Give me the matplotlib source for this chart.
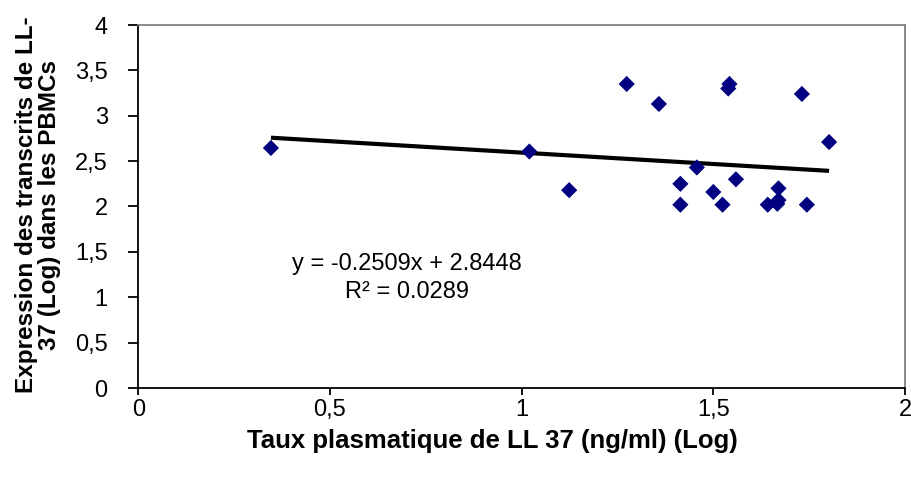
import matplotlib
matplotlib.use("Agg")
import matplotlib.pyplot as plt
import numpy as np

# Plasma LL-37 level (log) vs LL-37 transcript expression in PBMCs (log)
plasma_ll37 = [0.346, 1.020, 1.124, 1.274, 1.358, 1.414, 1.414, 1.457, 1.500, 1.524,
               1.542, 1.539, 1.559, 1.642, 1.667, 1.670, 1.670, 1.731, 1.744, 1.802]
transcripts = [2.645, 2.606, 2.18, 3.35, 3.13, 2.25, 2.02, 2.43, 2.16, 2.02,
               3.35, 3.30, 2.30, 2.02, 2.03, 2.07, 2.20, 3.24, 2.02, 2.71]

# Linear trend line
slope = -0.2509
intercept = 2.8448
r_squared = 0.0289

x_ticks = [0, 0.5, 1, 1.5, 2]
x_tick_labels = ["0", "0,5", "1", "1,5", "2"]
y_ticks = [0, 0.5, 1, 1.5, 2, 2.5, 3, 3.5, 4]
y_tick_labels = ["0", "0,5", "1", "1,5", "2", "2,5", "3", "3,5", "4"]

plt.rcParams["font.family"] = ["Liberation Sans", "DejaVu Sans"]

W, H = 912, 486
fig = plt.figure(figsize=(W / 100, H / 100), dpi=100)
ax = fig.add_axes([138.3 / W, 1 - 388 / H, (905 - 138.3) / W, (388 - 25) / H])

ax.scatter(plasma_ll37, transcripts, marker="D", s=68, color="#000080",
           edgecolors="none", zorder=3)

xs = np.array([min(plasma_ll37), max(plasma_ll37)])
ax.plot(xs, slope * xs + intercept, color="black", lw=3.0, zorder=2,
        solid_capstyle="butt")

ax.set_xlim(0, 2)
ax.set_ylim(0, 4)
ax.set_xticks(x_ticks)
ax.set_xticklabels(x_tick_labels)
ax.set_yticks(y_ticks)
ax.set_yticklabels(y_tick_labels)
ax.tick_params(axis="x", direction="out", length=5, width=1.3, pad=3,
               labelsize=17, colors="black")
ax.tick_params(axis="y", direction="out", length=7, width=1.3, pad=15,
               labelsize=17, colors="black")

for side in ("left", "bottom"):
    ax.spines[side].set_color("black")
    ax.spines[side].set_linewidth(1.3)
for side in ("top", "right"):
    ax.spines[side].set_color("#808080")
    ax.spines[side].set_linewidth(1.3)

eq_text = f"y = {slope}x + {intercept}\nR\u00b2 = {r_squared}"
ax.text(0.70, 1.212, eq_text, ha="center", va="center", multialignment="center",
        fontsize=17, linespacing=1.4)

fig.text(492 / W, 1 - 441 / H, "Taux plasmatique de LL 37 (ng/ml) (Log)",
         ha="center", va="center", fontsize=18.5, fontweight="bold")
fig.text(38 / W, 1 - 205 / H,
         "Expression des transcrits de LL-\n37 (Log) dans les PBMCs",
         ha="center", va="center", rotation=90, multialignment="center",
         fontsize=17.5, fontweight="bold", linespacing=1.0)

fig.savefig("out.png", dpi=100)
